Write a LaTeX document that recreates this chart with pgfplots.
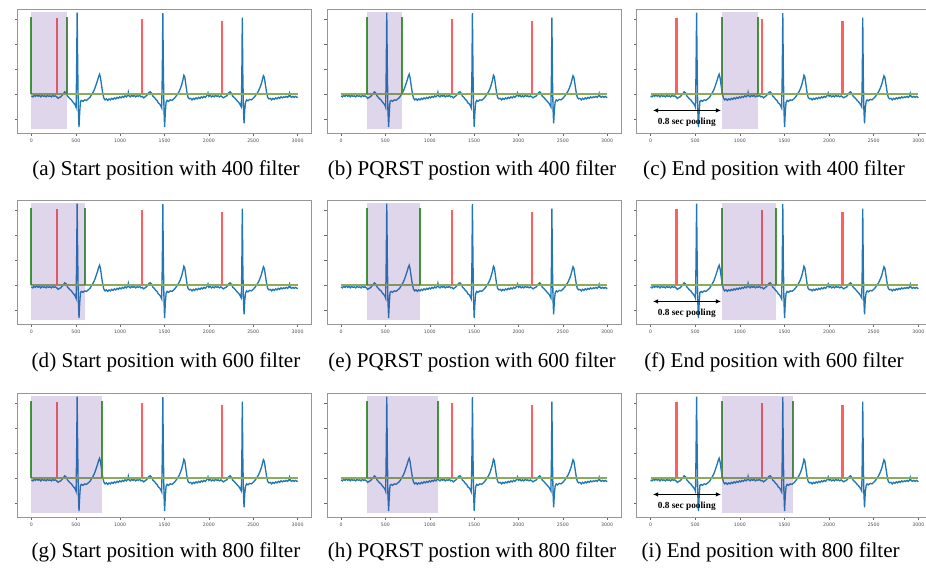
\documentclass[border=0pt]{standalone}
\usepackage{fontspec}
\setmainfont{Liberation Serif}
\newfontfamily\tickfont{DejaVu Sans}
\usepackage{pgfplots}
\usepackage{pgfplotstable}
\pgfplotsset{compat=1.18}
\usetikzlibrary{arrows.meta}

\definecolor{ecg}{RGB}{31,119,180}
\definecolor{gwin}{RGB}{70,150,60}
\definecolor{rmark}{RGB}{255,95,95}
\definecolor{base}{RGB}{140,172,85}
\definecolor{shade}{RGB}{102,51,153}
\definecolor{frame}{RGB}{150,150,150}

% one ECG trace, shared by all nine panels
\pgfplotstableread{
x y
0 -0.03
15 -0.05
30 -0.02
45 -0.04
60 -0.01
75 -0.04
90 -0.02
105 -0.05
120 -0.02
135 -0.04
150 -0.03
165 -0.05
180 -0.02
195 -0.04
210 -0.03
225 -0.05
240 -0.02
255 -0.04
270 -0.03
285 -0.05
300 -0.08
315 -0.06
330 -0.05
345 -0.02
360 0.01
375 0.05
390 0.03
405 -0.03
420 -0.06
435 -0.09
450 -0.11
465 -0.15
480 -0.18
495 -0.22
503 -0.26
509 0.5
515 1.63
521 0.6
528 -0.3
536 -0.65
544 -0.35
552 -0.14
565 -0.12
580 -0.14
600 -0.11
620 -0.12
640 -0.09
660 -0.06
680 0.00
700 0.06
715 0.12
730 0.20
745 0.28
758 0.36
768 0.40
778 0.33
790 0.18
802 0.04
815 -0.07
830 -0.11
845 -0.09
860 -0.12
875 -0.09
890 -0.11
905 -0.08
920 -0.10
935 -0.07
950 -0.09
965 -0.06
980 -0.08
995 -0.05
1010 -0.07
1025 -0.04
1040 -0.06
1055 -0.03
1070 -0.05
1085 -0.02
1092 0.04
1100 -0.03
1115 -0.05
1130 -0.02
1145 -0.04
1160 -0.02
1175 -0.05
1190 -0.03
1205 -0.04
1220 -0.02
1235 -0.05
1250 -0.04
1265 -0.07
1280 -0.05
1295 -0.03
1310 0.00
1325 0.04
1340 0.05
1355 0.02
1370 -0.04
1385 -0.06
1400 -0.10
1415 -0.12
1430 -0.17
1445 -0.19
1458 -0.23
1468 -0.27
1475 0.4
1481 1.62
1487 0.5
1494 -0.3
1501 -0.65
1509 -0.35
1518 -0.16
1530 -0.12
1545 -0.14
1565 -0.11
1585 -0.12
1605 -0.09
1625 -0.05
1645 0.00
1665 0.06
1680 0.12
1695 0.20
1708 0.29
1718 0.38
1728 0.35
1740 0.20
1752 0.05
1765 -0.06
1780 -0.09
1795 -0.08
1810 -0.11
1825 -0.08
1840 -0.10
1855 -0.07
1870 -0.09
1885 -0.06
1900 -0.08
1915 -0.05
1930 -0.07
1945 -0.04
1960 -0.06
1975 -0.03
1990 0.03
2000 -0.04
2015 -0.02
2030 -0.05
2045 -0.03
2060 -0.05
2075 -0.02
2090 -0.04
2105 -0.03
2120 -0.05
2135 -0.03
2150 -0.05
2165 -0.07
2180 -0.05
2195 -0.04
2210 -0.01
2225 0.03
2240 0.05
2255 0.02
2270 -0.04
2285 -0.06
2300 -0.09
2315 -0.12
2330 -0.15
2345 -0.18
2357 -0.22
2366 -0.25
2372 0.4
2377 1.53
2383 0.4
2390 -0.3
2397 -0.58
2405 -0.3
2414 -0.15
2426 -0.11
2440 -0.13
2460 -0.10
2480 -0.11
2500 -0.08
2520 -0.04
2540 0.01
2560 0.07
2575 0.13
2590 0.20
2603 0.29
2615 0.37
2625 0.34
2637 0.20
2650 0.05
2663 -0.06
2678 -0.09
2693 -0.08
2708 -0.11
2723 -0.08
2738 -0.10
2753 -0.07
2768 -0.09
2783 -0.06
2798 -0.08
2813 -0.05
2828 -0.07
2843 -0.05
2858 -0.06
2873 -0.04
2888 -0.06
2903 -0.03
2910 0.02
2918 -0.04
2933 -0.06
2948 -0.04
2963 -0.06
2978 -0.04
2993 -0.06
3000 -0.05
}\ecgdata

\pgfplotsset{ecgbase/.style={
  scale only axis, height=93pt, anchor=north west,
  xmin=-155, ymin=-0.77, ymax=1.70,
  xtick={0,500,1000,1500,2000,2500,3000},
  ytick={-0.5,0,0.5,1,1.5}, yticklabels={},
  tick align=outside, tick pos=left, major tick length=2.2pt,
  axis line style={frame, line width=0.75pt},
  every tick/.style={frame!70!black, line width=0.4pt},
  /pgf/number format/assume math mode=true,
  /pgf/number format/1000 sep={},
  xticklabel style={font=\tickfont\fontsize{3.5}{3.5}\selectfont, text=black!70, yshift=1pt},
}}

% #1 x, #2 y, #3 width, #4 xmax, #5 window start, #6 window end, #7 extras
\newcommand{\ecgpanel}[7]{%
\begin{axis}[ecgbase, at={(#1,#2)}, width=#3, xmax=#4]
\addplot[ecg, line width=1pt] table {\ecgdata};
\addplot[base, line width=1.5pt] coordinates {(0,0) (3000,0)};
\addplot[rmark, line width=1.6pt] coordinates {(290,0) (290,1.53)};
\addplot[rmark, line width=1.6pt] coordinates {(1250,0) (1250,1.51)};
\addplot[rmark, line width=1.6pt] coordinates {(2150,0) (2150,1.47)};
\addplot[gwin, line width=1.5pt] coordinates {(#5,0) (#5,1.54)};
\addplot[gwin, line width=1.5pt] coordinates {(#6,0) (#6,1.54)};
\addplot[draw=none, fill=shade, fill opacity=0.2] coordinates {(#5,-0.70) (#6,-0.70) (#6,1.64) (#5,1.64)} -- cycle;
#7
\node[anchor=south west, font=\tickfont\fontsize{3}{3}\selectfont, text=black!70, inner sep=0.5pt] at (rel axis cs:0,1) {1e1};
\end{axis}}

\newcommand{\pooling}{%
\addplot[black, line width=0.9pt, {Latex[length=4pt,width=3.5pt]}-{Latex[length=4pt,width=3.5pt]}] coordinates {(25,-0.32) (790,-0.32)};
\node[font=\bfseries\fontsize{7pt}{8pt}\selectfont] at (axis cs:405,-0.55) {0.8 sec pooling};}

\begin{document}
\begin{tikzpicture}
\useasboundingbox (0,0) rectangle (694.5pt,-426pt);

\ecgpanel{13.3pt}{-6.75pt}{220.5pt}{3160}{0}{400}{}
\ecgpanel{245.5pt}{-6.75pt}{220.5pt}{3160}{290}{690}{}
\ecgpanel{477.6pt}{-6.75pt}{216.9pt}{3086}{800}{1200}{\pooling}

\ecgpanel{13.3pt}{-150pt}{220.5pt}{3160}{0}{600}{}
\ecgpanel{245.5pt}{-150pt}{220.5pt}{3160}{290}{890}{}
\ecgpanel{477.6pt}{-150pt}{216.9pt}{3086}{800}{1400}{\pooling}

\ecgpanel{13.3pt}{-294.75pt}{220.5pt}{3160}{0}{800}{}
\ecgpanel{245.5pt}{-294.75pt}{220.5pt}{3160}{290}{1090}{}
\ecgpanel{477.6pt}{-294.75pt}{216.9pt}{3086}{800}{1600}{\pooling}

\begin{scope}[every node/.style={font=\fontsize{15.8pt}{18pt}\selectfont}]
\node at (124.5pt,-127.5pt) {(a) Start position with 400 filter};
\node at (354pt,-127.5pt) {(b) PQRST postion with 400 filter};
\node at (580.5pt,-127.5pt) {(c) End position with 400 filter};
\node at (124.5pt,-271.5pt) {(d) Start position with 600 filter};
\node at (354pt,-271.5pt) {(e) PQRST postion with 600 filter};
\node at (580.5pt,-271.5pt) {(f) End position with 600 filter};
\node at (124.5pt,-414pt) {(g) Start position with 800 filter};
\node at (354pt,-414pt) {(h) PQRST postion with 800 filter};
\node at (578pt,-414pt) {(i) End position with 800 filter};
\end{scope}
\end{tikzpicture}
\end{document}
